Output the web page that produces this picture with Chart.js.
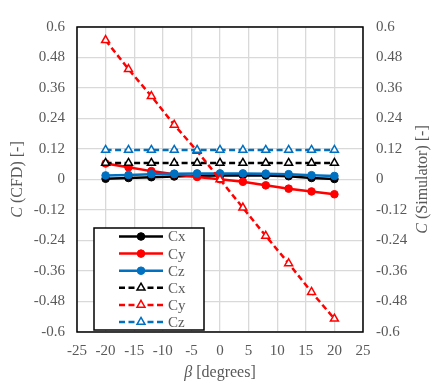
<!DOCTYPE html>
<html>
<head>
<meta charset="utf-8">
<script src="https://cdn.jsdelivr.net/npm/chart.js@4"></script>
<style>
html, body { margin: 0; padding: 0; background: #fff; }
#wrap { width: 436px; height: 389px; }
</style>
</head>
<body>
<div id="wrap"><canvas id="chart" width="436" height="389"></canvas></div>
<script>
// slip angle in degrees
const beta = [-20, -16, -12, -8, -4, 0, 4, 8, 12, 16, 20];

// CFD coefficients
const cxCfd = [0.003, 0.006, 0.009, 0.012, 0.015, 0.016, 0.017, 0.016, 0.013, 0.006, 0.002];
const cyCfd = [0.063, 0.048, 0.033, 0.021, 0.010, 0.001, -0.009, -0.023, -0.036, -0.047, -0.058];
const czCfd = [0.016, 0.018, 0.021, 0.023, 0.024, 0.024, 0.024, 0.023, 0.021, 0.017, 0.014];

// simulator coefficients
const cxSim = [0.065, 0.065, 0.065, 0.065, 0.065, 0.065, 0.065, 0.065, 0.065, 0.065, 0.065];
const cySim = [0.548, 0.434, 0.328, 0.215, 0.112, 0.0, -0.111, -0.222, -0.330, -0.443, -0.548];
const czSim = [0.116, 0.116, 0.116, 0.116, 0.116, 0.116, 0.116, 0.116, 0.116, 0.116, 0.116];

const seriesNames = ['Cx', 'Cy', 'Cz', 'Cx', 'Cy', 'Cz'];
const xTicks = [-25, -20, -15, -10, -5, 0, 5, 10, 15, 20, 25];
const yTicks = [-0.6, -0.48, -0.36, -0.24, -0.12, 0, 0.12, 0.24, 0.36, 0.48, 0.6];

const textColor = '#595959';
const serif = '"Liberation Serif", "Times New Roman", serif';
const gridColor = '#d9d9d9';

function pts(ys) {
    return beta.map((b, i) => ({ x: b, y: ys[i] }));
}

function solid(name, ys, color, order) {
    return {
        label: name, data: pts(ys), borderColor: color, backgroundColor: color,
        borderWidth: 2.5, pointStyle: 'circle', pointRadius: 3.8,
        pointBorderWidth: 1, pointBackgroundColor: color, pointBorderColor: color,
        order: order
    };
}

function dashed(name, ys, color, order) {
    return {
        label: name, data: pts(ys), borderColor: color, backgroundColor: '#fff',
        borderWidth: 2.5, borderDash: [6, 3.5], pointStyle: 'triangle', pointRadius: 4.6,
        pointBorderWidth: 1.5, pointBackgroundColor: '#fff', pointBorderColor: color,
        order: order
    };
}

const datasets = [
    solid(seriesNames[0], cxCfd, '#000000', 6),
    solid(seriesNames[1], cyCfd, '#ff0000', 5),
    solid(seriesNames[2], czCfd, '#0070c0', 4),
    dashed(seriesNames[3], cxSim, '#000000', 3),
    dashed(seriesNames[4], cySim, '#ff0000', 2),
    dashed(seriesNames[5], czSim, '#0070c0', 1)
];

function fmt(v) {
    return String(Math.round(v * 100) / 100);
}

// plot frame, axis titles with italic C, and the boxed legend
const decor = {
    id: 'decor',
    beforeDatasetsDraw(chart) {
        const a = chart.chartArea, ctx = chart.ctx;
        ctx.save();
        ctx.strokeStyle = '#000';
        ctx.lineWidth = 1.5;
        ctx.strokeRect(a.left, a.top, a.right - a.left, a.bottom - a.top);
        ctx.restore();
    },
    afterDraw(chart) {
        const a = chart.chartArea, ctx = chart.ctx;
        const midY = (a.top + a.bottom) / 2;

        function mixed(parts, cx, cy, rot) {
            ctx.save();
            ctx.translate(cx, cy);
            ctx.rotate(rot);
            ctx.fillStyle = textColor;
            ctx.textBaseline = 'middle';
            ctx.textAlign = 'left';
            let w = 0;
            parts.forEach(p => { ctx.font = p[1] + ' 16px ' + serif; w += ctx.measureText(p[0]).width; });
            let x = -w / 2;
            parts.forEach(p => {
                ctx.font = p[1] + ' 16px ' + serif;
                ctx.fillText(p[0], x, 0);
                x += ctx.measureText(p[0]).width;
            });
            ctx.restore();
        }
        mixed([['C', 'italic'], [' (CFD) [-]', 'normal']], 18, midY, -Math.PI / 2);
        mixed([['C', 'italic'], [' (Simulator) [-]', 'normal']], 423, midY, -Math.PI / 2);
        mixed([['\u03b2', 'italic'], [' [degrees]', 'normal']], (a.left + a.right) / 2, 373, 0);

        // legend box
        const bx = 94, by = 228, bw = 110, bh = 102;
        ctx.save();
        ctx.fillStyle = '#fff';
        ctx.fillRect(bx, by, bw, bh);
        ctx.strokeStyle = '#000';
        ctx.lineWidth = 1.5;
        ctx.strokeRect(bx, by, bw, bh);
        const rowH = 17.1;
        datasets.forEach((ds, i) => {
            const y = by + 8.5 + i * rowH;
            ctx.strokeStyle = ds.borderColor;
            ctx.lineWidth = 2.5;
            ctx.setLineDash(ds.borderDash || []);
            ctx.beginPath();
            ctx.moveTo(119, y);
            ctx.lineTo(163, y);
            ctx.stroke();
            ctx.setLineDash([]);
            if (ds.pointStyle === 'triangle') {
                ctx.fillStyle = '#fff';
                ctx.fillRect(136, y - 5, 10, 10);
            }
            ctx.fillStyle = ds.pointBackgroundColor;
            ctx.strokeStyle = ds.pointBorderColor;
            ctx.lineWidth = ds.pointBorderWidth;
            ctx.beginPath();
            if (ds.pointStyle === 'triangle') {
                const r = ds.pointRadius;
                for (let k = 0; k < 3; k++) {
                    const ang = k * 2 * Math.PI / 3;
                    const px = 141 + Math.sin(ang) * r, py = y - Math.cos(ang) * r;
                    if (k === 0) ctx.moveTo(px, py); else ctx.lineTo(px, py);
                }
                ctx.closePath();
            } else {
                ctx.arc(141, y, ds.pointRadius, 0, Math.PI * 2);
            }
            ctx.fill();
            ctx.stroke();
            ctx.fillStyle = textColor;
            ctx.font = '15px ' + serif;
            ctx.textAlign = 'left';
            ctx.textBaseline = 'middle';
            ctx.fillText(seriesNames[i], 168, y + 1);
        });
        ctx.restore();
    }
};

const tickFont = { family: serif, size: 15 };

new Chart(document.getElementById('chart').getContext('2d'), {
    type: 'line',
    data: { datasets: datasets },
    options: {
        responsive: false,
        devicePixelRatio: 1,
        animation: false,
        layout: { padding: { top: 27, left: 0, right: 0, bottom: 0 } },
        plugins: { legend: { display: false }, tooltip: { enabled: false } },
        scales: {
            x: {
                type: 'linear', min: -25, max: 25,
                afterBuildTicks: s => { s.ticks = xTicks.map(v => ({ value: v })); },
                afterFit: s => { s.height = 57; },
                grid: { color: gridColor, lineWidth: 1.3, drawTicks: false },
                border: { display: false },
                ticks: { padding: 10, color: textColor, font: tickFont, maxRotation: 0 }
            },
            y: {
                position: 'left', min: -0.6, max: 0.6,
                afterBuildTicks: s => { s.ticks = yTicks.map(v => ({ value: v })); },
                afterFit: s => { s.width = 77; },
                grid: { color: gridColor, lineWidth: 1.3, drawTicks: false },
                border: { display: false },
                ticks: { padding: 12, color: textColor, font: tickFont, callback: v => fmt(v) }
            },
            y2: {
                position: 'right', min: -0.6, max: 0.6,
                afterBuildTicks: s => { s.ticks = yTicks.map(v => ({ value: v })); },
                afterFit: s => { s.width = 73; },
                grid: { display: false, drawTicks: false },
                border: { display: false },
                ticks: { padding: 13, color: textColor, font: tickFont, callback: v => fmt(v) }
            }
        }
    },
    plugins: [decor]
});
</script>
</body>
</html>
